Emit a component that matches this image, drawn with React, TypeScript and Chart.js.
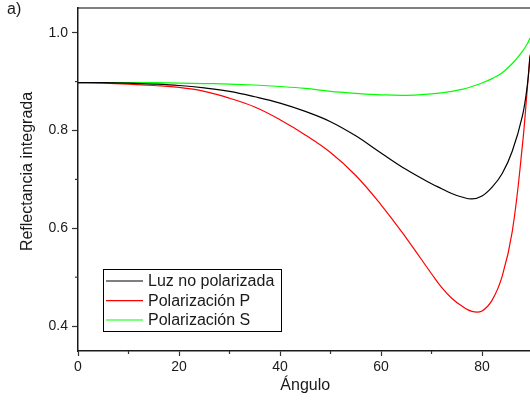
import React, { useEffect, useRef } from "react";
import { Chart, registerables } from "chart.js";
Chart.register(...registerables);

const angles = [0, 5, 10, 15, 20, 25, 30, 35, 40, 45, 50, 55, 60, 65, 70, 72, 74, 76, 78, 80, 82, 84, 86, 88, 89, 89.5];
const luzNoPolarizada = [0.898, 0.898, 0.897, 0.895, 0.892, 0.887, 0.880, 0.869, 0.856, 0.839, 0.818, 0.789, 0.754, 0.720, 0.691, 0.681, 0.671, 0.664, 0.660, 0.666, 0.684, 0.712, 0.758, 0.830, 0.895, 0.951];
const polarizacionP = [0.898, 0.897, 0.895, 0.892, 0.888, 0.880, 0.866, 0.848, 0.822, 0.791, 0.755, 0.708, 0.648, 0.580, 0.507, 0.479, 0.457, 0.441, 0.430, 0.431, 0.453, 0.502, 0.594, 0.770, 0.890, 0.955];
const polarizacionS = [0.898, 0.898, 0.898, 0.898, 0.897, 0.896, 0.895, 0.893, 0.890, 0.886, 0.880, 0.876, 0.873, 0.872, 0.875, 0.877, 0.880, 0.884, 0.890, 0.897, 0.906, 0.918, 0.937, 0.962, 0.978, 0.989];

const seriesNames = ["Luz no polarizada", "Polarización P", "Polarización S"];
const seriesColors = ["#000000", "#ff0000", "#00ff00"];
const xMajor = [0, 20, 40, 60, 80];
const xMinor = [10, 30, 50, 70];
const yMajor = [0.4, 0.6, 0.8, 1.0];
const yMinor = [0.5, 0.7, 0.9];
const xTitle = "Ángulo";
const yTitle = "Reflectancia integrada";
const panelLabel = "a)";

const FONT = "'Liberation Sans', Arial, sans-serif";
const TEXT = "#1a1a1a";

export default function App() {
  const ref = useRef<HTMLCanvasElement>(null);
  useEffect(() => {
    if (!ref.current) return;
    const decor = {
      id: "decor",
      afterDraw(chart: any) {
        const { ctx, chartArea: a, scales } = chart;
        const x = scales.x;
        const y = scales.y;
        ctx.save();
        ctx.strokeStyle = "#000";
        ctx.lineWidth = 1.2;
        ctx.beginPath();
        ctx.moveTo(a.left, a.top);
        ctx.lineTo(a.right, a.top);
        ctx.stroke();
        ctx.strokeStyle = "#333";
        ctx.lineWidth = 1.2;
        xMinor.forEach((v) => {
          const px = x.getPixelForValue(v);
          ctx.beginPath();
          ctx.moveTo(px, a.bottom);
          ctx.lineTo(px, a.bottom + 3);
          ctx.stroke();
        });
        yMinor.forEach((v) => {
          const py = y.getPixelForValue(v);
          ctx.beginPath();
          ctx.moveTo(a.left, py);
          ctx.lineTo(a.left - 3, py);
          ctx.stroke();
        });
        ctx.fillStyle = "#fff";
        ctx.fillRect(103.5, 269.5, 178, 62);
        ctx.strokeStyle = "#000";
        ctx.lineWidth = 1;
        ctx.strokeRect(103.5, 269.5, 178, 62);
        const rows = [281, 300.7, 320];
        ctx.font = "16px " + FONT;
        ctx.textAlign = "left";
        ctx.textBaseline = "alphabetic";
        seriesNames.forEach((name, i) => {
          ctx.strokeStyle = seriesColors[i];
          ctx.lineWidth = 1.2;
          ctx.beginPath();
          ctx.moveTo(106, rows[i]);
          ctx.lineTo(143, rows[i]);
          ctx.stroke();
          ctx.fillStyle = TEXT;
          ctx.fillText(name, 148, rows[i] + 5.3);
        });
        ctx.fillStyle = TEXT;
        ctx.font = "16px " + FONT;
        ctx.textAlign = "center";
        ctx.fillText(xTitle, x.getPixelForValue(45), 390);
        ctx.save();
        ctx.translate(31.5, 171.5);
        ctx.rotate(-Math.PI / 2);
        ctx.fillText(yTitle, 0, 0);
        ctx.restore();
        ctx.textAlign = "left";
        ctx.fillText(panelLabel, 7, 13.5);
        ctx.restore();
      },
    };
    const mk = (vals: number[]) => angles.map((a, i) => ({ x: a, y: vals[i] }));
    const chart = new Chart(ref.current, {
      type: "line",
      data: {
        datasets: [luzNoPolarizada, polarizacionP, polarizacionS].map((vals, i) => ({
          label: seriesNames[i],
          data: mk(vals),
          borderColor: seriesColors[i],
          backgroundColor: seriesColors[i],
          borderWidth: 1.2,
          pointRadius: 0,
          fill: false,
          tension: 0.4,
        })),
      },
      options: {
        animation: false,
        responsive: false,
        layout: { padding: { top: 8, right: 0, left: 0, bottom: 0 } },
        plugins: { legend: { display: false }, tooltip: { enabled: false } },
        scales: {
          x: {
            type: "linear",
            min: 0,
            max: 89.5,
            border: { display: true, color: "#1a1a1a", width: 1.5 },
            grid: { drawOnChartArea: false, drawTicks: true, tickLength: 5, tickColor: "#333", tickWidth: 1.2 },
            ticks: { color: TEXT, font: { family: FONT, size: 14 }, padding: 3, maxRotation: 0, autoSkip: false, callback: (v: any) => String(v) },
            afterBuildTicks: (s: any) => {
              s.ticks = xMajor.map((v) => ({ value: v }));
            },
            afterFit: (s: any) => {
              s.height = 55;
              s.paddingLeft = 0;
              s.paddingRight = 0;
            },
          },
          y: {
            type: "linear",
            min: 0.349,
            max: 1.0505,
            border: { display: true, color: "#1a1a1a", width: 1.5 },
            grid: { drawOnChartArea: false, drawTicks: true, tickLength: 6, tickColor: "#333", tickWidth: 1.2 },
            ticks: { color: TEXT, font: { family: FONT, size: 14 }, padding: 4, autoSkip: false, callback: (v: any) => Number(v).toFixed(1) },
            afterBuildTicks: (s: any) => {
              s.ticks = yMajor.map((v) => ({ value: v }));
            },
            afterFit: (s: any) => {
              s.width = 78;
              s.paddingTop = 0;
              s.paddingBottom = 0;
            },
          },
        },
      },
      plugins: [decor],
    });
    return () => chart.destroy();
  }, []);
  return (
    <div style={{ position: "absolute", left: 0, top: 0, width: 530, height: 406, background: "#fff" }}>
      <canvas ref={ref} width={530} height={406} style={{ display: "block" }} />
    </div>
  );
}
